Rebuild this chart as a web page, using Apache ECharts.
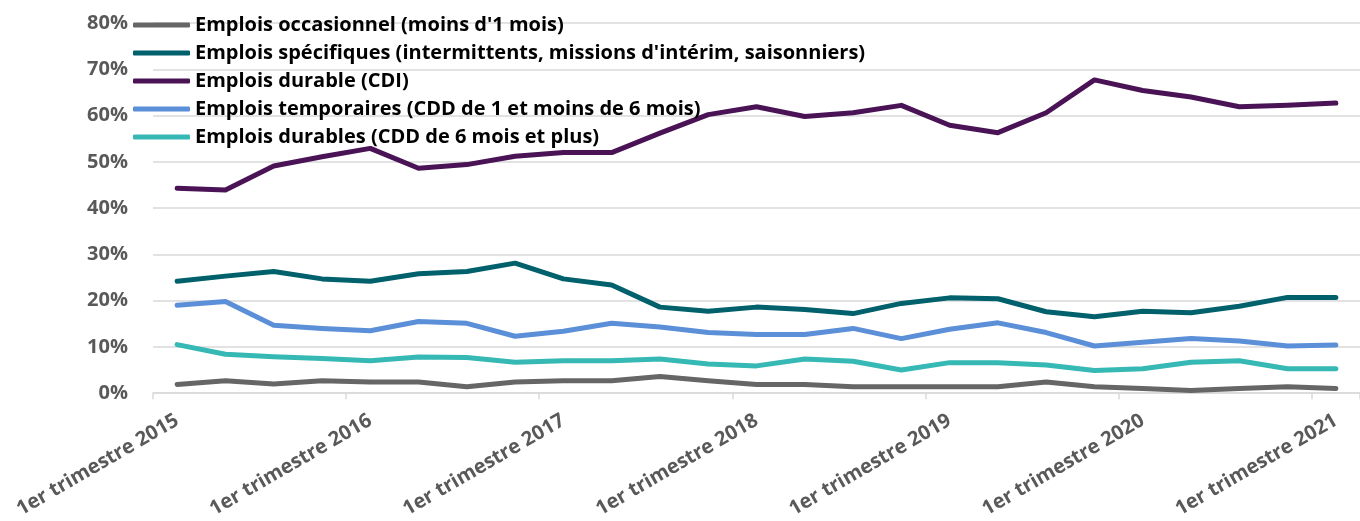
<!DOCTYPE html>
<html>
<head>
<meta charset="utf-8">
<script src="https://cdn.jsdelivr.net/npm/echarts/dist/echarts.min.js"></script>
<style>
    html, body { margin: 0; padding: 0; background: #fff; }
    #chart { width: 1360px; height: 521px; }
</style>
</head>
<body>
<div id="chart"></div>
<script>
const years = [2015, 2016, 2017, 2018, 2019, 2020, 2021];
const quarterNames = ['1er', '2e', '3e', '4e'];
const categories = [];
years.forEach(y => {
    quarterNames.forEach(q => {
        if (categories.length < 25) categories.push(q + ' trimestre ' + y);
    });
});

const seriesNames = [
    "Emplois occasionnel (moins d'1 mois)",
    "Emplois spécifiques (intermittents, missions d'intérim, saisonniers)",
    'Emplois durable (CDI)',
    'Emplois temporaires (CDD de 1 et moins de 6 mois)',
    'Emplois durables (CDD de 6 mois et plus)',
];

const occasionnel = [1.9, 2.7, 2.0, 2.7, 2.4, 2.4, 1.4, 2.4, 2.7, 2.7, 3.6, 2.7, 1.9, 1.9, 1.4, 1.4, 1.4, 1.4, 2.4, 1.4, 1.0, 0.6, 1.0, 1.4, 1.0];
const specifiques = [24.2, 25.3, 26.3, 24.7, 24.2, 25.8, 26.3, 28.1, 24.7, 23.4, 18.6, 17.7, 18.6, 18.1, 17.2, 19.4, 20.6, 20.4, 17.6, 16.5, 17.7, 17.4, 18.8, 20.7, 20.7];
const cdi = [44.3, 43.9, 49.1, 51.1, 52.9, 48.6, 49.4, 51.2, 52.0, 52.0, 56.2, 60.2, 61.9, 59.8, 60.6, 62.2, 57.9, 56.3, 60.6, 67.7, 65.4, 64.0, 61.9, 62.2, 62.7];
const temporaires = [19.0, 19.8, 14.7, 14.0, 13.5, 15.5, 15.1, 12.3, 13.4, 15.1, 14.3, 13.1, 12.7, 12.7, 14.0, 11.8, 13.8, 15.2, 13.1, 10.2, 11.0, 11.8, 11.3, 10.2, 10.4];
const cdd6mois = [10.5, 8.4, 7.9, 7.5, 7.0, 7.8, 7.7, 6.7, 7.0, 7.0, 7.4, 6.3, 5.9, 7.4, 6.9, 5.0, 6.6, 6.6, 6.1, 4.9, 5.3, 6.7, 7.0, 5.3, 5.3];

const colors = ['#666666', '#00606b', '#4a1356', '#5b8fd7', '#36b8b4'];
const values = [occasionnel, specifiques, cdi, temporaires, cdd6mois];

const chart = echarts.init(document.getElementById('chart'));
const font = '"Open Sans", sans-serif';

chart.setOption({
    animation: false,
    color: colors,
    grid: { left: 153, top: 23, bottom: 126, right: -10 },
    legend: {
        orient: 'vertical',
        left: 133,
        top: 15,
        padding: 0,
        itemWidth: 57,
        itemHeight: 5,
        itemGap: 8,
        icon: 'roundRect',
        textStyle: { fontFamily: font, fontWeight: 'bold', fontSize: 20, color: '#000', lineHeight: 20 },
        data: seriesNames,
    },
    xAxis: {
        type: 'category',
        data: categories,
        boundaryGap: true,
        axisLine: { lineStyle: { color: '#d9d9d9', width: 1.5 } },
        axisTick: { show: true, length: 6, lineStyle: { color: '#d9d9d9', width: 1.5 } },
        axisLabel: {
            interval: 3,
            rotate: 30,
            margin: 26,
            fontFamily: font,
            fontWeight: 'bold',
            fontSize: 20,
            color: '#595959',
        },
    },
    yAxis: {
        type: 'value',
        min: 0,
        max: 80,
        interval: 10,
        axisLine: { show: false },
        axisTick: { show: false },
        splitLine: { lineStyle: { color: '#d9d9d9', width: 1.5 } },
        axisLabel: {
            formatter: '{value}%',
            margin: 25,
            fontFamily: font,
            fontWeight: 'bold',
            fontSize: 20,
            color: '#595959',
        },
    },
    series: seriesNames.map((name, i) => ({
        name,
        type: 'line',
        data: values[i],
        symbol: 'none',
        lineStyle: { width: 5, color: colors[i], cap: 'round', join: 'round' },
        itemStyle: { color: colors[i] },
    })),
});
</script>
</body>
</html>
